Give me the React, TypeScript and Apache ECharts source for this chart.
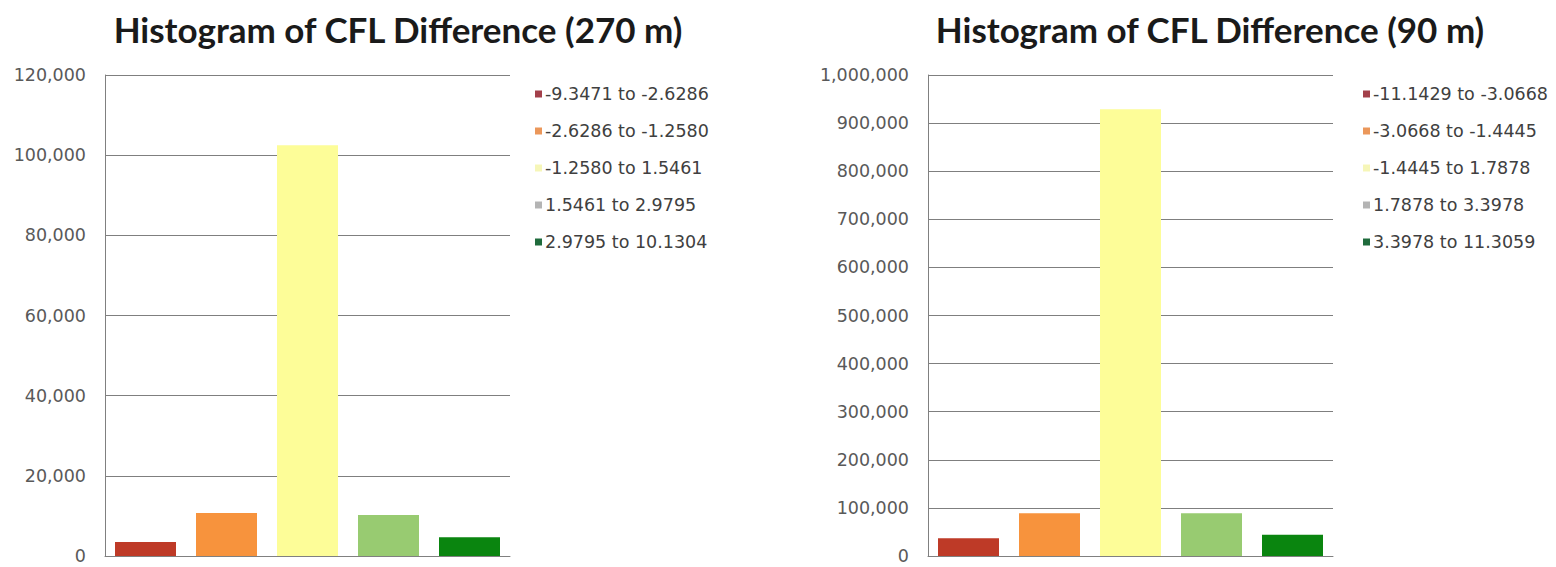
import React, { useEffect, useRef } from "react";
import * as echarts from "echarts";

// ---- data ----
const binsLeft = [
  "-9.3471 to -2.6286",
  "-2.6286 to -1.2580",
  "-1.2580 to 1.5461",
  "1.5461 to 2.9795",
  "2.9795 to 10.1304",
];
const countsLeft = [3500, 10700, 102500, 10200, 4700];

const binsRight = [
  "-11.1429 to -3.0668",
  "-3.0668 to -1.4445",
  "-1.4445 to 1.7878",
  "1.7878 to 3.3978",
  "3.3978 to 11.3059",
];
const countsRight = [37000, 89000, 929000, 89000, 44000];

const titleLeft = "Histogram of CFL Difference (270 m)";
const titleRight = "Histogram of CFL Difference (90 m)";

const barColors = ["#BE3A27", "#F7933D", "#FDFD98", "#98CB71", "#0A850F"];
const legendColors = ["#A3404A", "#EB975A", "#F6F6B8", "#B4B4B4", "#1F6B3C"];

const TITLE_FONT = "Lato, 'Open Sans', sans-serif";
const FONT = "'DejaVu Sans', sans-serif";

function fmt(v: number) {
  return v.toLocaleString("en-US");
}

export default function App() {
  const ref = useRef<HTMLDivElement>(null);
  useEffect(() => {
    if (!ref.current) return;
    const chart = echarts.init(ref.current, null, { renderer: "svg" });

    const makeSeries = (bins: string[], counts: number[], axis: number, stack: string) =>
      bins.map((name, i) => ({
        name,
        type: "bar",
        stack,
        xAxisIndex: axis,
        yAxisIndex: axis,
        barWidth: 61,
        itemStyle: { color: barColors[i] },
        data: counts.map((v, j) => (j === i ? v : null)),
      }));

    const axisCommonX = (gridIndex: number, bins: string[]) => ({
      type: "category",
      gridIndex,
      data: bins,
      axisLabel: { show: false },
      axisTick: { show: false },
      axisLine: { show: true, lineStyle: { color: "#808080", width: 1 } },
    });
    const axisCommonY = (gridIndex: number, max: number, interval: number) => ({
      type: "value",
      gridIndex,
      min: 0,
      max,
      interval,
      axisLine: { show: true, lineStyle: { color: "#808080", width: 1 } },
      axisTick: { show: false },
      splitLine: { show: true, lineStyle: { color: "#7F7F7F", width: 1 } },
      axisLabel: {
        margin: 19,
        color: "#595959",
        fontFamily: FONT,
        fontSize: 17.5,
        formatter: (v: number) => fmt(v),
      },
    });

    const legendCommon = (left: number, bins: string[]) => ({
      orient: "vertical",
      left,
      top: 85,
      padding: 0,
      itemWidth: 7,
      itemHeight: 7,
      itemGap: 19,
      icon: "rect",
      selectedMode: false,
      textStyle: { color: "#404040", fontFamily: FONT, fontSize: 17.5, padding: [0, 0, 0, -2] },
      data: bins.map((name, i) => ({ name, itemStyle: { color: legendColors[i] } })),
    });

    chart.setOption({
      animation: false,
      backgroundColor: "#FFFFFF",
      title: [
        {
          text: titleLeft,
          left: 398,
          top: 11,
          padding: 0,
          textAlign: "center",
          textStyle: { fontFamily: TITLE_FONT, fontWeight: "bold", fontSize: 35, color: "#1A1A1A" },
        },
        {
          text: titleRight,
          left: 1210,
          top: 11,
          padding: 0,
          textAlign: "center",
          textStyle: { fontFamily: TITLE_FONT, fontWeight: "bold", fontSize: 35, color: "#1A1A1A" },
        },
      ],
      legend: [legendCommon(535, binsLeft), legendCommon(1363, binsRight)],
      grid: [
        { left: 105, top: 75, width: 405, height: 481 },
        { left: 928, top: 75, width: 405, height: 481 },
      ],
      xAxis: [axisCommonX(0, binsLeft), axisCommonX(1, binsRight)],
      yAxis: [axisCommonY(0, 120000, 20000), axisCommonY(1, 1000000, 100000)],
      series: [
        ...makeSeries(binsLeft, countsLeft, 0, "left"),
        ...makeSeries(binsRight, countsRight, 1, "right"),
      ],
    });

    return () => chart.dispose();
  }, []);

  return (
    <div
      ref={ref}
      style={{ position: "fixed", left: 0, top: 0, width: 1556, height: 567 }}
    />
  );
}
